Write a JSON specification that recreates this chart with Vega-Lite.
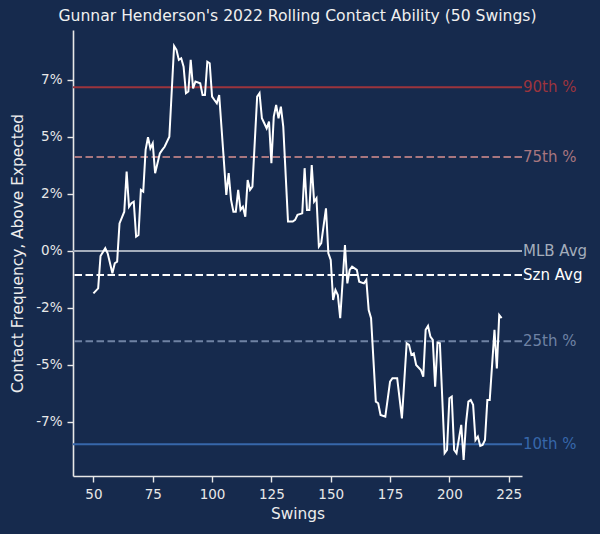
{
  "$schema": "https://vega.github.io/schema/vega-lite/v6.json",
  "width": 449,
  "height": 446,
  "autosize": {"type": "none"},
  "padding": {"left": 73, "top": 30, "right": 78, "bottom": 58},
  "background": "#162a4d",
  "config": {
    "view": {"stroke": null},
    "font": "DejaVu Sans",
    "axis": {
      "grid": false,
      "domainColor": "#e8e8e8",
      "domainWidth": 1.6,
      "tickColor": "#e8e8e8",
      "tickWidth": 1.4,
      "tickSize": 6,
      "labelColor": "#e8e8e8",
      "labelFontSize": 13.5,
      "labelFont": "DejaVu Sans",
      "labelPadding": 5,
      "titleColor": "#ececec",
      "titleFontSize": 15.4,
      "titleFont": "DejaVu Sans",
      "titleFontWeight": "normal"
    }
  },
  "title": {
    "text": "Gunnar Henderson's 2022 Rolling Contact Ability (50 Swings)",
    "fontSize": 15.6,
    "font": "DejaVu Sans",
    "fontWeight": "normal",
    "color": "#f0f0f0",
    "anchor": "middle",
    "offset": 5
  },
  "datasets": {
    "roll": [
      {"swing": 50, "rate": -0.0186},
      {"swing": 52, "rate": -0.0164},
      {"swing": 53, "rate": -0.0022},
      {"swing": 55, "rate": 0.0012},
      {"swing": 56, "rate": -0.0010},
      {"swing": 58, "rate": -0.0098},
      {"swing": 59, "rate": -0.0054},
      {"swing": 60, "rate": -0.0047},
      {"swing": 61, "rate": 0.0121},
      {"swing": 63, "rate": 0.0172},
      {"swing": 64, "rate": 0.0348},
      {"swing": 65, "rate": 0.0194},
      {"swing": 66, "rate": 0.0209},
      {"swing": 67, "rate": 0.0216},
      {"swing": 68, "rate": 0.0063},
      {"swing": 69, "rate": 0.0070},
      {"swing": 70, "rate": 0.0268},
      {"swing": 71, "rate": 0.0260},
      {"swing": 72, "rate": 0.0443},
      {"swing": 73, "rate": 0.0499},
      {"swing": 74, "rate": 0.0450},
      {"swing": 75, "rate": 0.0472},
      {"swing": 76, "rate": 0.0341},
      {"swing": 78, "rate": 0.0428},
      {"swing": 79, "rate": 0.0443},
      {"swing": 80, "rate": 0.0457},
      {"swing": 82, "rate": 0.0501},
      {"swing": 84, "rate": 0.0899},
      {"swing": 85, "rate": 0.0882},
      {"swing": 86, "rate": 0.0838},
      {"swing": 87, "rate": 0.0845},
      {"swing": 88, "rate": 0.0808},
      {"swing": 89, "rate": 0.0692},
      {"swing": 90, "rate": 0.0699},
      {"swing": 91, "rate": 0.0838},
      {"swing": 92, "rate": 0.0713},
      {"swing": 93, "rate": 0.0743},
      {"swing": 95, "rate": 0.0735},
      {"swing": 96, "rate": 0.0684},
      {"swing": 97, "rate": 0.0684},
      {"swing": 98, "rate": 0.0830},
      {"swing": 99, "rate": 0.0823},
      {"swing": 100, "rate": 0.0677},
      {"swing": 101, "rate": 0.0662},
      {"swing": 102, "rate": 0.0648},
      {"swing": 103, "rate": 0.0684},
      {"swing": 106, "rate": 0.0246},
      {"swing": 107, "rate": 0.0341},
      {"swing": 108, "rate": 0.0224},
      {"swing": 109, "rate": 0.0172},
      {"swing": 110, "rate": 0.0172},
      {"swing": 111, "rate": 0.0268},
      {"swing": 112, "rate": 0.0180},
      {"swing": 113, "rate": 0.0194},
      {"swing": 114, "rate": 0.0150},
      {"swing": 115, "rate": 0.0311},
      {"swing": 116, "rate": 0.0268},
      {"swing": 117, "rate": 0.0282},
      {"swing": 119, "rate": 0.0677},
      {"swing": 120, "rate": 0.0692},
      {"swing": 121, "rate": 0.0582},
      {"swing": 122, "rate": 0.0560},
      {"swing": 123, "rate": 0.0538},
      {"swing": 124, "rate": 0.0567},
      {"swing": 125, "rate": 0.0385},
      {"swing": 126, "rate": 0.0589},
      {"swing": 127, "rate": 0.0640},
      {"swing": 128, "rate": 0.0582},
      {"swing": 129, "rate": 0.0633},
      {"swing": 130, "rate": 0.0545},
      {"swing": 132, "rate": 0.0129},
      {"swing": 134, "rate": 0.0129},
      {"swing": 135, "rate": 0.0136},
      {"swing": 136, "rate": 0.0158},
      {"swing": 138, "rate": 0.0165},
      {"swing": 139, "rate": 0.0363},
      {"swing": 140, "rate": 0.0180},
      {"swing": 141, "rate": 0.0180},
      {"swing": 142, "rate": 0.0377},
      {"swing": 143, "rate": 0.0216},
      {"swing": 144, "rate": 0.0231},
      {"swing": 145, "rate": 0.0019},
      {"swing": 146, "rate": 0.0034},
      {"swing": 148, "rate": 0.0187},
      {"swing": 149, "rate": -0.0010},
      {"swing": 150, "rate": -0.0039},
      {"swing": 151, "rate": -0.0215},
      {"swing": 152, "rate": -0.0171},
      {"swing": 153, "rate": -0.0193},
      {"swing": 154, "rate": -0.0295},
      {"swing": 156, "rate": 0.0026},
      {"swing": 157, "rate": -0.0142},
      {"swing": 158, "rate": -0.0083},
      {"swing": 159, "rate": -0.0069},
      {"swing": 161, "rate": -0.0083},
      {"swing": 162, "rate": -0.0135},
      {"swing": 164, "rate": -0.0142},
      {"swing": 165, "rate": -0.0127},
      {"swing": 166, "rate": -0.0259},
      {"swing": 167, "rate": -0.0295},
      {"swing": 169, "rate": -0.0661},
      {"swing": 170, "rate": -0.0668},
      {"swing": 171, "rate": -0.0719},
      {"swing": 173, "rate": -0.0727},
      {"swing": 175, "rate": -0.0573},
      {"swing": 176, "rate": -0.0558},
      {"swing": 178, "rate": -0.0558},
      {"swing": 180, "rate": -0.0734},
      {"swing": 182, "rate": -0.0405},
      {"swing": 183, "rate": -0.0412},
      {"swing": 184, "rate": -0.0456},
      {"swing": 185, "rate": -0.0449},
      {"swing": 186, "rate": -0.0500},
      {"swing": 188, "rate": -0.0522},
      {"swing": 189, "rate": -0.0551},
      {"swing": 190, "rate": -0.0346},
      {"swing": 191, "rate": -0.0329},
      {"swing": 192, "rate": -0.0376},
      {"swing": 193, "rate": -0.0390},
      {"swing": 194, "rate": -0.0595},
      {"swing": 195, "rate": -0.0402},
      {"swing": 196, "rate": -0.0405},
      {"swing": 198, "rate": -0.0887},
      {"swing": 199, "rate": -0.0873},
      {"swing": 200, "rate": -0.0646},
      {"swing": 201, "rate": -0.0639},
      {"swing": 202, "rate": -0.0873},
      {"swing": 203, "rate": -0.0887},
      {"swing": 205, "rate": -0.0763},
      {"swing": 206, "rate": -0.0917},
      {"swing": 207, "rate": -0.0756},
      {"swing": 208, "rate": -0.0661},
      {"swing": 209, "rate": -0.0654},
      {"swing": 210, "rate": -0.0675},
      {"swing": 211, "rate": -0.0829},
      {"swing": 212, "rate": -0.0814},
      {"swing": 213, "rate": -0.0855},
      {"swing": 214, "rate": -0.0851},
      {"swing": 215, "rate": -0.0829},
      {"swing": 216, "rate": -0.0654},
      {"swing": 217, "rate": -0.0654},
      {"swing": 219, "rate": -0.0346},
      {"swing": 220, "rate": -0.0515},
      {"swing": 221, "rate": -0.0281},
      {"swing": 222, "rate": -0.0295}
    ],
    "refs": [
      {"label": "90th %", "value": 0.0718},
      {"label": "75th %", "value": 0.0412},
      {"label": "MLB Avg", "value": 0.0},
      {"label": "Szn Avg", "value": -0.0105},
      {"label": "25th %", "value": -0.0396},
      {"label": "10th %", "value": -0.0848}
    ]
  },
  "layer": [
    {
      "data": {"name": "refs"},
      "mark": {"type": "rule", "strokeWidth": 2},
      "encoding": {
        "y": {"field": "value", "type": "quantitative"},
        "color": {
          "field": "label", "type": "nominal", "legend": null,
          "scale": {
            "domain": ["90th %", "75th %", "MLB Avg", "Szn Avg", "25th %", "10th %"],
            "range": ["#9c343d", "#a8767f", "#a4adbb", "#ffffff", "#6f82a4", "#3767aa"]
          }
        },
        "strokeDash": {
          "field": "label", "type": "nominal", "legend": null,
          "scale": {
            "domain": ["90th %", "75th %", "MLB Avg", "Szn Avg", "25th %", "10th %"],
            "range": [[1, 0], [7.5, 3.5], [1, 0], [7.5, 3.5], [7.5, 3.5], [1, 0]]
          }
        }
      }
    },
    {
      "data": {"name": "refs"},
      "mark": {"type": "text", "align": "left", "baseline": "middle", "dx": 1, "fontSize": 15, "font": "DejaVu Sans"},
      "encoding": {
        "x": {"datum": 230.6, "type": "quantitative"},
        "y": {"field": "value", "type": "quantitative"},
        "text": {"field": "label"},
        "color": {
          "field": "label", "type": "nominal", "legend": null,
          "scale": {
            "domain": ["90th %", "75th %", "MLB Avg", "Szn Avg", "25th %", "10th %"],
            "range": ["#a8383f", "#c98d94", "#c3c9d3", "#ffffff", "#94a3c2", "#4a78b8"]
          }
        }
      }
    },
    {
      "data": {"name": "roll"},
      "mark": {"type": "line", "color": "#ffffff", "strokeWidth": 2},
      "encoding": {
        "x": {
          "field": "swing", "type": "quantitative",
          "scale": {"domain": [41.4, 230.6], "nice": false, "zero": false},
          "axis": {"values": [50, 75, 100, 125, 150, 175, 200, 225], "title": "Swings", "titlePadding": 6, "labelFlush": false}
        },
        "y": {
          "field": "rate", "type": "quantitative",
          "scale": {"domain": [-0.0987, 0.0969], "nice": false, "zero": false},
          "axis": {
            "values": [-0.075, -0.05, -0.025, 0, 0.025, 0.05, 0.075],
            "labelExpr": "(datum.value < 0 ? '-' : '') + floor(abs(datum.value) * 100 + 0.000001) + '%'",
            "title": "Contact Frequency, Above Expected",
            "titlePadding": 10,
            "labelFlush": false
          }
        }
      }
    }
  ]
}
